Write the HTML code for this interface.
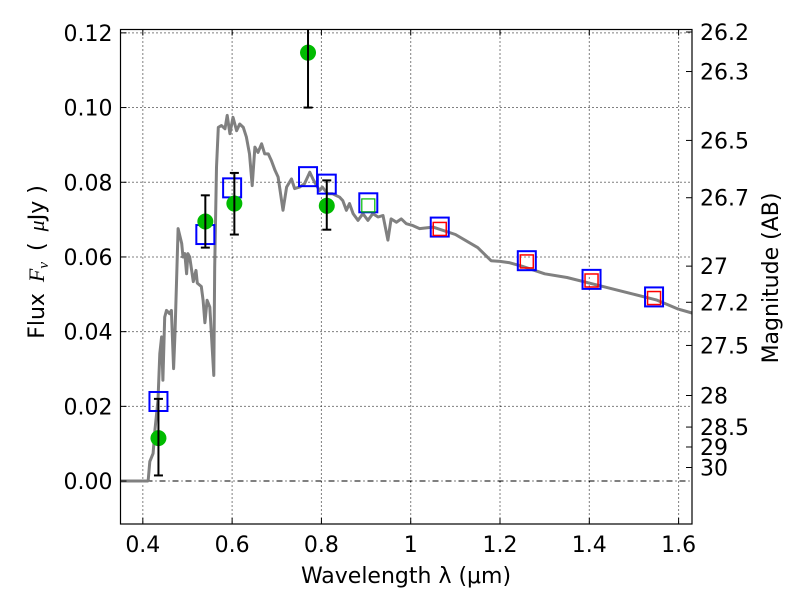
<!DOCTYPE html>
<html><head><meta charset="utf-8"><style>
html,body{margin:0;padding:0;background:#fff;width:800px;height:600px;overflow:hidden}
svg{font-family:"DejaVu Sans","Liberation Sans",sans-serif}
</style></head><body>
<svg id="chart" width="800" height="600" viewBox="0 0 800 600" xmlns="http://www.w3.org/2000/svg">
<rect x="0" y="0" width="800" height="600" fill="#fff"/>
<g id="grid"></g>
<g id="series"></g>
<g id="axes"></g>
</svg>
<script>
const specLam=[0.35,0.411,0.412,0.4156,0.423,0.427,0.434,0.438,0.442,0.445,0.449,0.453,0.460,0.464,0.469,0.472,0.479,0.487,0.490,0.494,0.498,0.501,0.505,0.513,0.519,0.522,0.531,0.535,0.539,0.544,0.550,0.559,0.561,0.565,0.569,0.576,0.584,0.589,0.595,0.602,0.610,0.617,0.625,0.632,0.639,0.645,0.651,0.658,0.666,0.673,0.681,0.688,0.696,0.703,0.714,0.722,0.733,0.740,0.751,0.762,0.774,0.781,0.789,0.796,0.802,0.814,0.825,0.841,0.848,0.856,0.863,0.871,0.882,0.893,0.904,0.915,0.927,0.938,0.949,0.956,0.968,0.979,0.990,1.005,1.020,1.05,1.1,1.15,1.18,1.2,1.22,1.25,1.3,1.35,1.4,1.45,1.5,1.55,1.6,1.63];
const specFlux=[0,0,0.0002,0.0052,0.0074,0.0136,0.0217,0.0341,0.0386,0.027,0.0439,0.0457,0.0448,0.0457,0.0301,0.0395,0.0676,0.0636,0.060,0.0609,0.0555,0.0609,0.060,0.0534,0.0564,0.053,0.0521,0.0484,0.0424,0.0484,0.0466,0.0283,0.0573,0.084,0.0947,0.0952,0.0943,0.0979,0.093,0.0974,0.0938,0.0956,0.0947,0.0921,0.0876,0.0791,0.0894,0.088,0.0903,0.0876,0.0876,0.0858,0.0832,0.0814,0.0725,0.0787,0.0809,0.0783,0.0787,0.0796,0.0827,0.0809,0.0791,0.0778,0.0787,0.0769,0.0769,0.076,0.0751,0.0725,0.0743,0.0716,0.0698,0.0716,0.0698,0.0716,0.0707,0.0711,0.0645,0.0702,0.0693,0.0702,0.0689,0.0684,0.0676,0.068,0.066,0.0625,0.059,0.0588,0.0585,0.0575,0.0555,0.0545,0.053,0.0515,0.05,0.0485,0.046,0.045];
const obsLam=[0.435,0.54,0.605,0.77,0.812];
const obsFlux=[0.0115,0.0695,0.0743,0.1147,0.0737];
const obsLo=[0.0015,0.0625,0.066,0.100,0.0673];
const obsHi=[0.022,0.0765,0.0825,0.125,0.0805];
const modLam=[0.435,0.54,0.6,0.77,0.812,0.905,1.065,1.26,1.405,1.545];
const modFlux=[0.0213,0.066,0.0785,0.0815,0.0795,0.0745,0.068,0.059,0.054,0.0493];
const greenLam=[0.905];
const greenFlux=[0.0738];
const redLam=[1.065,1.26,1.405,1.545];
const redFlux=[0.0675,0.0588,0.0537,0.049];
const xTicks=[0.4,0.6,0.8,1.0,1.2,1.4,1.6];
const xTickLabels=["0.4","0.6","0.8","1","1.2","1.4","1.6"];
const yTicks=[0,0.02,0.04,0.06,0.08,0.10,0.12];
const yTickLabels=["0.00","0.02","0.04","0.06","0.08","0.10","0.12"];
const magTicks=[26.2,26.3,26.5,26.7,27,27.2,27.5,28,28.5,29,30];
const magLabels=["26.2","26.3","26.5","26.7","27","27.2","27.5","28","28.5","29","30"];

const L=120.5,R=692,T=29.5,B=524;
const XMIN=0.35,XMAX=1.63,YMIN=-0.0115,YMAX=0.1209;
const X=v=>L+(v-XMIN)/(XMAX-XMIN)*(R-L);
const Y=v=>B-(v-YMIN)/(YMAX-YMIN)*(B-T);
const NS="http://www.w3.org/2000/svg";
function mk(tag,attrs,parent,text){const e=document.createElementNS(NS,tag);for(const k in attrs)e.setAttribute(k,attrs[k]);if(text!==undefined)e.textContent=text;parent.appendChild(e);return e;}
const grid=document.getElementById('grid'),ser=document.getElementById('series'),ax=document.getElementById('axes');

xTicks.forEach(t=>{const e=mk('line',{x1:X(t),x2:X(t),y1:T,y2:B,stroke:'#000','stroke-width':1,'stroke-dasharray':'1,3'},grid);

});
yTicks.forEach(t=>{const e=mk('line',{x1:L,x2:R,y1:Y(t),y2:Y(t),stroke:'#000','stroke-width':1,'stroke-dasharray':t===0?'6,3,1,3':'1,3'},grid);

});

let d='';specLam.forEach((l,i)=>{d+=(i?'L':'M')+X(l).toFixed(1)+','+Y(specFlux[i]).toFixed(1);});
const sp=mk('path',{d:d,fill:'none',stroke:'#808080','stroke-width':3,'stroke-linejoin':'round'},ser);



modLam.forEach((l,i)=>{const s=mk('rect',{x:X(l)-9,y:Y(modFlux[i])-9.5,width:18,height:19,fill:'none',stroke:'#0000ff','stroke-width':2},ser);

});
greenLam.forEach((l,i)=>{const s=mk('rect',{x:X(l)-6.5,y:Y(greenFlux[i])-6.5,width:13,height:13,fill:'none',stroke:'#00bb00','stroke-width':1.2},ser);

});
redLam.forEach((l,i)=>{const s=mk('rect',{x:X(l)-6.5,y:Y(redFlux[i])-6.5,width:13,height:13,fill:'none',stroke:'#ff0000','stroke-width':1.5},ser);

});

obsLam.forEach((l,i)=>{const g=mk('g',{},ser);


const x=X(l);
mk('circle',{cx:x,cy:Y(obsFlux[i]),r:8,fill:'#00bb00'},g);
const hi=Math.max(Y(obsHi[i]),T);
mk('line',{x1:x,x2:x,y1:Y(obsLo[i]),y2:hi,stroke:'#000','stroke-width':2},g);
mk('line',{x1:x-4.5,x2:x+4.5,y1:Y(obsLo[i]),y2:Y(obsLo[i]),stroke:'#000','stroke-width':2},g);
if(Y(obsHi[i])>=T)mk('line',{x1:x-4.5,x2:x+4.5,y1:Y(obsHi[i]),y2:Y(obsHi[i]),stroke:'#000','stroke-width':2},g);});

const fr=mk('rect',{x:L,y:T,width:R-L,height:B-T,fill:'none',stroke:'#000','stroke-width':1.2},ax);



xTicks.forEach((t,i)=>{mk('line',{x1:X(t),x2:X(t),y1:B,y2:B-6,stroke:'#000'},ax);mk('line',{x1:X(t),x2:X(t),y1:T,y2:T+6,stroke:'#000'},ax);
const e=mk('text',{x:X(t),y:B+28,'font-size':22,'text-anchor':'middle'},ax,xTickLabels[i]);

});
yTicks.forEach((t,i)=>{mk('line',{x1:L,x2:L+6,y1:Y(t),y2:Y(t),stroke:'#000'},ax);
const e=mk('text',{x:L-8,y:Y(t)+8,'font-size':22,'text-anchor':'end'},ax,yTickLabels[i]);

});
magTicks.forEach((m,i)=>{const f=Math.pow(10,(23.9-m)/2.5);const y=Y(f);
mk('line',{x1:R,x2:R-6,y1:y,y2:y,stroke:'#000'},ax);
const e=mk('text',{x:R+8,y:y+8,'font-size':22},ax,magLabels[i]);

});

const xt=mk('text',{x:406,y:583,'font-size':22,'text-anchor':'middle','xml:space':'preserve'},ax,'Wavelength  λ (μm)');


const yt=mk('text',{x:0,y:0,'font-size':22,'text-anchor':'middle',transform:'translate(44,262) rotate(-90)'},ax);


yt.innerHTML='Flux\u2002<tspan font-family="Liberation Serif,serif" font-style="italic">F</tspan><tspan font-family="Liberation Serif,serif" font-style="italic" font-size="15" dy="4">ν</tspan><tspan dy="-4">\u2002(\u2002</tspan><tspan font-family="Liberation Serif,serif" font-style="italic">μ</tspan>Jy )';
const rt=mk('text',{x:0,y:0,'font-size':22,'text-anchor':'middle',transform:'translate(778,278) rotate(-90)'},ax,'Magnitude (AB)');


</script>
</body></html>
